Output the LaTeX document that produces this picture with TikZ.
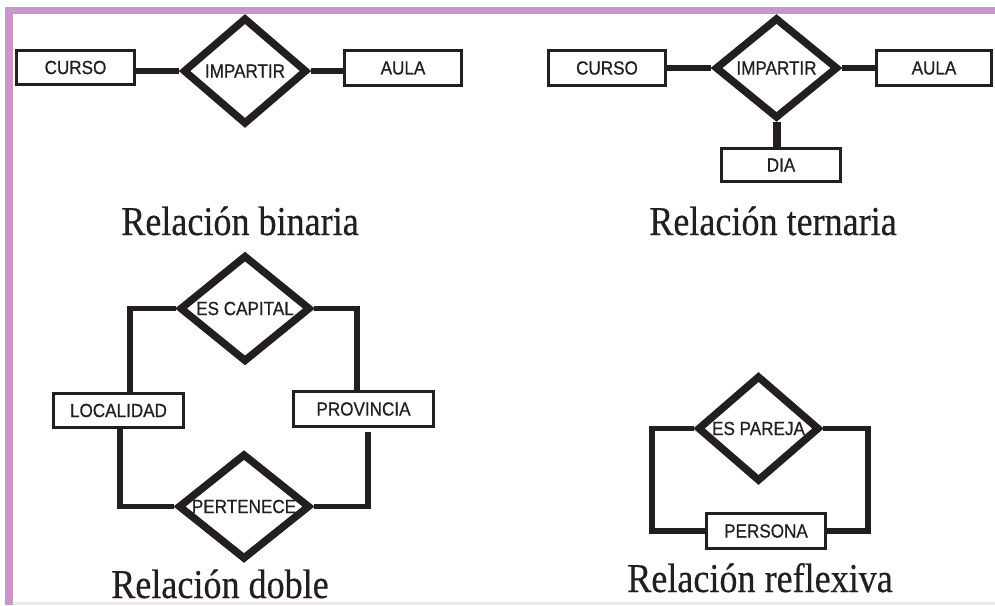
\documentclass[tikz,border=0pt]{standalone}
\usepackage{fontspec}
\setmainfont{Liberation Serif}
\newfontfamily\boxfont{Liberation Sans}[FakeBold=0.7]
\newfontfamily\capfont{Liberation Serif}[FakeBold=0.5]
\usetikzlibrary{shapes.geometric}
\definecolor{ink}{HTML}{231F20}
\definecolor{framec}{HTML}{C996C9}
\definecolor{faint}{HTML}{F3E6F3}
\newcommand{\bt}[1]{\scalebox{0.9}[1]{#1}}
\newcommand{\ct}[1]{\scalebox{0.88}[1]{#1}}
\begin{document}
\begin{tikzpicture}[x=1pt,y=-1pt,
  entity/.style={draw=ink, line width=3.2pt, fill=white, inner sep=0pt,
    font=\boxfont\fontsize{19}{21}\selectfont, text=ink},
  rel/.style={diamond, draw=ink, line width=7.5pt, inner sep=0pt, fill=white},
  rellabel/.style={font=\boxfont\fontsize{19}{21}\selectfont, text=ink, inner sep=0pt},
  link/.style={draw=ink, line width=5.5pt},
  caption/.style={font=\capfont\fontsize{41}{46}\selectfont, text=ink, inner sep=0pt, anchor=base}]
\useasboundingbox (0,0) rectangle (995,605);
% frame
\fill[framec] (5,7) rectangle (995,14);
\fill[framec] (5,7) rectangle (13,605);
\fill[faint] (13,602) rectangle (995,605);

% binary
\node[entity, minimum width=118pt, minimum height=34pt] (curso1) at (75.5,67.5) {\bt{CURSO}};
\node[rel, minimum width=124pt, minimum height=107pt,
  label={[rellabel]center:\bt{IMPARTIR}}] (imp1) at (245,71) {};
\node[entity, minimum width=117pt, minimum height=35pt] (aula1) at (403,68) {\bt{AULA}};
\draw[link] (imp1.west) -- (imp1.west -| curso1.east);
\draw[link] (imp1.east) -- (imp1.east -| aula1.west);
\node[caption] (cap1) at (240,235) {\ct{Relación binaria}};

% ternary
\node[entity, minimum width=117pt, minimum height=35pt] (curso2) at (607,68) {\bt{CURSO}};
\node[rel, minimum width=123pt, minimum height=101pt,
  label={[rellabel]center:\bt{IMPARTIR}}] (imp2) at (776.5,68) {};
\node[entity, minimum width=115pt, minimum height=35pt] (aula2) at (934,68) {\bt{AULA}};
\node[entity, minimum width=119pt, minimum height=33pt] (dia) at (781,165) {\bt{DIA}};
\draw[link] (imp2.west) -- (imp2.west -| curso2.east);
\draw[link] (imp2.east) -- (imp2.east -| aula2.west);
\draw[ink, line width=8pt] (imp2.south) -- (imp2.south |- dia.north);
\node[caption] (cap2) at (773,235) {\ct{Relación ternaria}};

% double
\node[rel, minimum width=131pt, minimum height=107pt,
  label={[rellabel]center:\bt{ES CAPITAL}}] (esc) at (245,308.5) {};
\node[entity, minimum width=130pt, minimum height=34pt] (loc) at (118.5,410.5) {\bt{LOCALIDAD}};
\node[entity, minimum width=140pt, minimum height=35pt] (prov) at (363.5,409) {\bt{PROVINCIA}};
\node[rel, minimum width=132pt, minimum height=106pt,
  label={[rellabel]center:\bt{PERTENECE}}] (pert) at (244,506.5) {};
\coordinate (dl1) at (130,392);
\coordinate (dr1) at (357,391);
\coordinate (dl2) at (120,429);
\coordinate (dr2) at (368,432);
\draw[link] (esc.west) -| (dl1);
\draw[link] (esc.east) -| (dr1);
\draw[link] (dl2) |- (pert.west);
\draw[link] (dr2) |- (pert.east);
\node[caption] (cap3) at (220,598) {\ct{Relación doble}};

% reflexive
\node[rel, minimum width=122pt, minimum height=106pt,
  label={[rellabel]center:\bt{ES PAREJA}}] (esp) at (758.5,428.5) {};
\node[entity, minimum width=119pt, minimum height=35pt] (pers) at (766,531) {\bt{PERSONA}};
\coordinate (rl) at (652,531);
\coordinate (rr) at (868,531);
\draw[link] (esp.west) -| (rl) -- (pers.west);
\draw[link] (esp.east) -| (rr) -- (pers.east);
\node[caption] (cap4) at (760,592) {\ct{Relación reflexiva}};
\end{tikzpicture}
\end{document}
